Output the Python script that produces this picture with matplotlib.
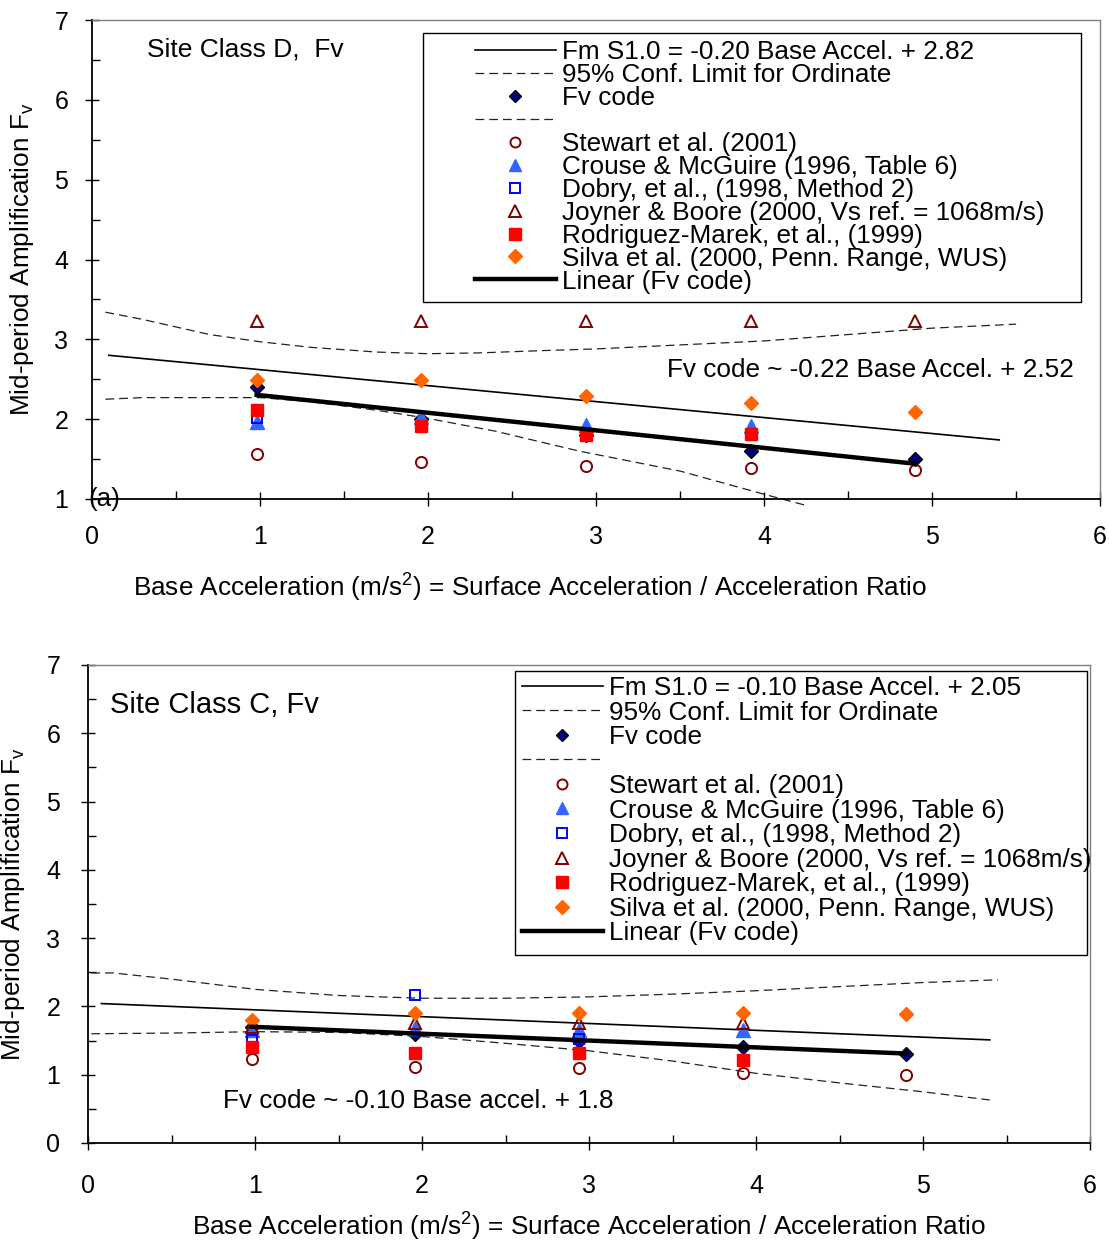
import numpy as np
import matplotlib
matplotlib.use('Agg')
import matplotlib.pyplot as plt
from matplotlib.patches import Rectangle
from matplotlib.ticker import MultipleLocator

plt.rcParams['font.family'] = ['Liberation Sans', 'DejaVu Sans']
plt.rcParams['mathtext.fontset'] = 'custom'
plt.rcParams['mathtext.rm'] = 'Liberation Sans'
plt.rcParams['mathtext.it'] = 'Liberation Sans:italic'

# base accelerations (m/s2) for 0.1g .. 0.5g
base_acc = [0.98, 1.96, 2.94, 3.92, 4.90]

# ---- site class D ----
d_fv_code = [2.40, 2.00, 1.80, 1.60, 1.50]
d_stewart = [1.56, 1.46, 1.41, 1.39, 1.36]
d_crouse = [1.96, 2.03, 1.93, 1.92]
d_dobry = [2.02]
d_joyner = [3.23, 3.23, 3.23, 3.23, 3.23]
d_rodriguez = [2.11, 1.91, 1.80, 1.81]
d_silva = [2.49, 2.49, 2.29, 2.20, 2.09]
d_fm_coef = (-0.20, 2.82)
d_fm_span = (0.1, 5.4)
d_trend_coef = (-0.22, 2.52)
d_conf_hi_x = [0.08, 0.3, 0.7, 1.0, 1.3, 1.7, 2.0, 2.3, 2.7, 3.0, 3.5, 4.0, 4.5, 5.0, 5.5]
d_conf_hi_y = [3.34, 3.25, 3.06, 2.97, 2.90, 2.84, 2.82, 2.83, 2.86, 2.88, 2.93, 2.98, 3.06, 3.14, 3.19]
d_conf_lo_x = [0.08, 0.3, 0.7, 1.0, 1.3, 1.7, 2.0, 2.4, 2.9, 3.5, 4.0, 4.25]
d_conf_lo_y = [2.25, 2.27, 2.27, 2.27, 2.22, 2.11, 2.01, 1.85, 1.60, 1.35, 1.06, 0.92]

# ---- site class C ----
c_fv_code = [1.70, 1.60, 1.50, 1.40, 1.30]
c_stewart = [1.23, 1.11, 1.10, 1.02, 1.00]
c_crouse = [1.65, 1.68, 1.65, 1.65]
c_dobry = [1.51, 2.17, 1.53]
c_joyner = [1.70, 1.76, 1.76, 1.76]
c_rodriguez = [1.41, 1.32, 1.32, 1.21]
c_silva = [1.80, 1.91, 1.90, 1.90, 1.89]
c_fm_coef = (-0.10, 2.05)
c_fm_span = (0.08, 5.4)
c_trend_coef = (-0.10, 1.80)
c_conf_hi_x = [0.02, 0.15, 0.5, 1.0, 1.5, 2.0, 2.5, 3.0, 3.5, 4.0, 4.5, 5.0, 5.45]
c_conf_hi_y = [2.49, 2.49, 2.40, 2.25, 2.16, 2.12, 2.12, 2.14, 2.18, 2.23, 2.29, 2.35, 2.39]
c_conf_lo_x = [0.02, 0.5, 1.0, 1.5, 2.0, 2.5, 3.0, 3.5, 4.0, 4.5, 5.0, 5.4]
c_conf_lo_y = [1.60, 1.61, 1.63, 1.62, 1.56, 1.46, 1.35, 1.20, 1.02, 0.88, 0.75, 0.63]

labels = ['Fm S1.0 = {:.2f} Base Accel. + {:.2f}',
          '95% Conf. Limit for Ordinate',
          'Fv code',
          ' ',
          'Stewart et al. (2001)',
          'Crouse & McGuire (1996, Table 6)',
          'Dobry, et al., (1998, Method 2)',
          'Joyner & Boore (2000, Vs ref. = 1068m/s)',
          'Rodriguez-Marek, et al., (1999)',
          'Silva et al. (2000, Penn. Range, WUS)',
          'Linear (Fv code)']

W, H = 1109, 1243
fig = plt.figure(figsize=(W / 100, H / 100), dpi=100)


def px_box(x0, y0, x1, y1):
    return [x0 / W, 1 - y1 / H, (x1 - x0) / W, (y1 - y0) / H]


def panel(ax, ylo, fv, stew, crouse, dobry, joyner, rod, silva,
          fm_coef, fm_span, trend_coef, hi_x, hi_y, lo_x, lo_y, loose_lo):
    x = np.array(base_acc)
    dash = dict(ls=(0, (7, 4)), color='#222222', lw=0.9)
    fx = np.array(fm_span)
    h_fm, = ax.plot(fx, fm_coef[0] * fx + fm_coef[1], color='black', lw=1.2)
    h_hi, = ax.plot(hi_x, hi_y, **dash)
    h_fv, = ax.plot(x, fv, 'D', ms=7.2, mfc='#000080', mec='black', mew=1)
    h_lo, = ax.plot(lo_x, lo_y, clip_on=not loose_lo, **dash)
    h_st, = ax.plot(x[:len(stew)], stew, 'o', ms=8, mfc='none', mec='#800000', mew=1.4)
    h_cr, = ax.plot(x[:len(crouse)], crouse, '^', ms=9.5, color='#3366FF')
    h_do, = ax.plot(x[:len(dobry)], dobry, 's', ms=7.5, mfc='none', mec='#0000FF', mew=1.4)
    h_jo, = ax.plot(x[:len(joyner)], joyner, '^', ms=9, mfc='none', mec='#800000', mew=1.4)
    h_ro, = ax.plot(x[:len(rod)], rod, 's', ms=9, color='#FF0000')
    h_si, = ax.plot(x[:len(silva)], silva, 'D', ms=7.5, color='#FF6600')
    tx = np.array([x[0], x[-1]])
    h_tr, = ax.plot(tx, trend_coef[0] * tx + trend_coef[1], color='black', lw=3.2)

    ax.set_xlim(0, 6)
    ax.set_ylim(ylo, 7)
    ax.xaxis.set_major_locator(MultipleLocator(1))
    ax.xaxis.set_minor_locator(MultipleLocator(0.5))
    ax.yaxis.set_major_locator(MultipleLocator(1))
    ax.yaxis.set_minor_locator(MultipleLocator(0.5))
    ax.tick_params(which='major', direction='inout', length=10, width=1, labelsize=18)
    ax.tick_params(which='minor', direction='in', length=6, width=1)
    for s in ['left', 'bottom']:
        ax.spines[s].set_linewidth(1.3)
        ax.spines[s].set_color('black')
    for s in ['top', 'right']:
        ax.spines[s].set_linewidth(1.0)
        ax.spines[s].set_color('#808080')

    handles = [h_fm, h_hi, h_fv, h_lo, h_st, h_cr, h_do, h_jo, h_ro, h_si, h_tr]
    names = [labels[0].format(*fm_coef)] + labels[1:]
    return handles, names


def legend_box(ax, box, anchor, handles, names, spacing):
    # white framed box behind a frameless legend, both kept inside the axes
    x0, y0, x1, y1 = box
    ax.add_patch(Rectangle((x0 / W, 1 - y1 / H), (x1 - x0) / W, (y1 - y0) / H,
                           transform=fig.transFigure, fc='white', ec='black',
                           lw=1.0, zorder=5, clip_on=False))
    leg = ax.legend(handles, names, loc='upper left',
                    bbox_to_anchor=(anchor[0] / W, 1 - anchor[1] / H),
                    bbox_transform=fig.transFigure, frameon=False, fontsize=18.8,
                    borderpad=0, borderaxespad=0, handlelength=3.1, handletextpad=0.22,
                    labelspacing=spacing, numpoints=1, markerscale=0.9)
    leg.set_zorder(6)


xlabel = 'Base Acceleration (m/s$^\\mathregular{2}$) = Surface Acceleration / Acceleration Ratio'
ylabel = 'Mid-period Amplification F$_\\mathregular{v}$'

# ---- top panel: site class D ----
ax1 = fig.add_axes(px_box(92, 20, 1100, 499))
hd, nd = panel(ax1, 1, d_fv_code, d_stewart, d_crouse, d_dobry, d_joyner, d_rodriguez,
               d_silva, d_fm_coef, d_fm_span, d_trend_coef,
               d_conf_hi_x, d_conf_hi_y, d_conf_lo_x, d_conf_lo_y, True)
ax1.tick_params(axis='x', which='major', pad=14)
ax1.tick_params(axis='y', which='major', pad=12)
ax1.set_xlabel(xlabel, fontsize=18.8)
ax1.xaxis.set_label_coords(0.4345, -0.152)
ax1.set_ylabel(ylabel, fontsize=18.8)
ax1.yaxis.set_label_coords(-0.056, 0.5)
ax1.text(0.33, 6.54, 'Site Class D,  Fv', fontsize=19)
ax1.text(-0.02, 1.0, '(a)', fontsize=18.8, va='center')
ax1.text(3.42, 2.53, 'Fv code ~ {:.2f} Base Accel. + {:.2f}'.format(*d_trend_coef), fontsize=18.8)
legend_box(ax1, (423, 33, 1081, 302), (475, 40), hd, nd, -0.04)

# ---- bottom panel: site class C ----
ax2 = fig.add_axes(px_box(88, 665, 1090, 1143))
hc, nc = panel(ax2, 0, c_fv_code, c_stewart, c_crouse, c_dobry, c_joyner, c_rodriguez,
               c_silva, c_fm_coef, c_fm_span, c_trend_coef,
               c_conf_hi_x, c_conf_hi_y, c_conf_lo_x, c_conf_lo_y, False)
ax2.tick_params(axis='x', which='major', pad=17)
ax2.tick_params(axis='y', which='major', pad=15)
ax2.set_xlabel(xlabel, fontsize=18.8)
ax2.xaxis.set_label_coords(0.5, -0.142)
ax2.set_ylabel(ylabel, fontsize=18.8)
ax2.yaxis.set_label_coords(-0.061, 0.5)
ax2.text(0.13, 6.30, 'Site Class C, Fv', fontsize=21)
ax2.text(0.81, 0.51, 'Fv code ~ -0.10 Base accel. + 1.8', fontsize=18.8)
legend_box(ax2, (515, 671, 1087, 955), (522, 676), hc, nc, 0.02)

fig.savefig('out.png', dpi=100)
